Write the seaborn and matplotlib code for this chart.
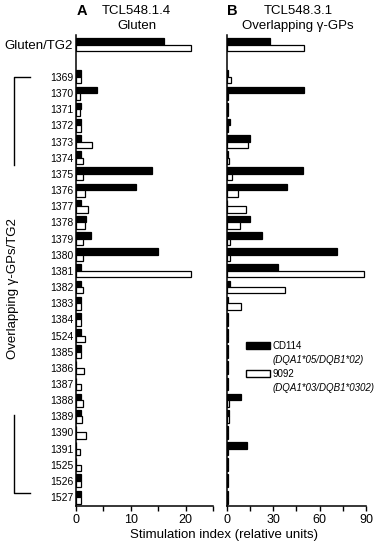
import pandas as pd
import matplotlib.pyplot as plt
import seaborn as sns
from matplotlib.patches import Patch
from matplotlib.lines import Line2D
from matplotlib.ticker import MultipleLocator

peptides = ['Gluten/TG2', '1369', '1370', '1371', '1372', '1373', '1374', '1375', '1376', '1377',
            '1378', '1379', '1380', '1381', '1382', '1383', '1384', '1524', '1385', '1386',
            '1387', '1388', '1389', '1390', '1391', '1525', '1526', '1527']
clones = ['CD114', '9092']

# panel A: TCL548.1.4 (gluten)
a_cd114 = [16, 0.9, 3.9, 0.9, 0.9, 0.9, 0.9, 13.9, 10.9, 0.9, 1.9, 2.8, 15, 0.9,
           0.9, 0.9, 0.9, 0.9, 0.9, 0, 0, 0.9, 0.9, 0, 0, 0, 0.9, 0.9]
a_9092 = [21, 1.0, 0.7, 0.7, 1.0, 3.0, 1.3, 1.2, 1.7, 2.1, 1.6, 1.2, 1.3, 21,
          1.3, 1.0, 1.0, 1.7, 1.0, 1.4, 0.9, 1.3, 1.1, 1.8, 0.7, 0.9, 1.0, 0.9]
# panel B: TCL548.3.1 (overlapping gamma-GPs)
b_cd114 = [28, 0.5, 50, 1, 2, 15, 0.8, 49, 39, 0.3, 15, 23, 71, 33,
           2, 0.5, 0.8, 0.8, 0.8, 0.8, 0.8, 9, 1.5, 0.5, 13, 0.5, 1, 1]
b_9092 = [50, 2.4, 0.5, 0.5, 0.5, 14, 1.5, 3.5, 7, 12.4, 8.2, 2.2, 1.8, 89,
          37.7, 9, 0.8, 0.8, 0.8, 0.8, 0.8, 1.5, 1.5, 0.5, 0.5, 0.5, 1, 1]

order = [peptides[0], ' '] + peptides[1:]

def long_df(v1, v2):
    return pd.DataFrame({
        'peptide': peptides * 2,
        'clone': [clones[0]] * len(peptides) + [clones[1]] * len(peptides),
        'value': v1 + v2,
    })

plt.rcParams['font.family'] = ['Liberation Sans', 'DejaVu Sans']
fig = plt.figure(figsize=(3.8, 5.46), dpi=100)
axA = fig.add_axes([0.2, 0.0733, 0.3605, 0.8627])
axB = fig.add_axes([0.597, 0.0733, 0.366, 0.8627])
pal = {'CD114': 'black', '9092': 'white'}

for ax, v1, v2, xmax, major in [(axA, a_cd114, a_9092, 25, 10), (axB, b_cd114, b_9092, 90, 30)]:
    sns.barplot(data=long_df(v1, v2), x='value', y='peptide', hue='clone', order=order,
                hue_order=clones, palette=pal, edgecolor='black', linewidth=0.9,
                orient='h', errorbar=None, legend=False, width=0.8, ax=ax)
    ax.set_ylim(28.55, -0.6)
    ax.set_xlim(0, xmax)
    ax.xaxis.set_major_locator(MultipleLocator(major))
    ax.xaxis.set_minor_locator(MultipleLocator(major / 2))
    ax.tick_params(axis='x', which='both', length=3.5, width=1, labelsize=9, pad=2)
    ax.tick_params(axis='y', length=0, pad=2)
    for s in ['top', 'right']:
        ax.spines[s].set_visible(False)
    for s in ['left', 'bottom']:
        ax.spines[s].set_linewidth(1.1)
    ax.set_xlabel('')
    ax.set_ylabel('')

for i, lbl in enumerate(axA.get_yticklabels()):
    lbl.set_fontsize(9.5 if i == 0 else 7.5)
axB.set_yticklabels([])

leg = axB.legend(handles=[Patch(facecolor='black', edgecolor='black'),
                          Patch(visible=False),
                          Patch(facecolor='white', edgecolor='black'),
                          Patch(visible=False)],
                 labels=['CD114', '(DQA1*05/DQB1*02)', '9092', '(DQA1*03/DQB1*0302)'],
                 loc='upper left', bbox_to_anchor=(0.137, 0.35), frameon=False,
                 fontsize=7, handlelength=2.5, handleheight=0.7, handletextpad=0.25,
                 labelspacing=0.4, borderpad=0, borderaxespad=0)
for t in leg.get_texts()[1::2]:
    t.set_style('italic')

fig.text(0.216, 0.98, 'A', fontsize=10.5, fontweight='bold', ha='center', va='center')
fig.text(0.358, 0.98, 'TCL548.1.4', fontsize=9.5, ha='center', va='center')
fig.text(0.36, 0.952, 'Gluten', fontsize=9.5, ha='center', va='center')
fig.text(0.611, 0.98, 'B', fontsize=10.5, fontweight='bold', ha='center', va='center')
fig.text(0.784, 0.98, 'TCL548.3.1', fontsize=9.5, ha='center', va='center')
fig.text(0.784, 0.952, 'Overlapping γ-GPs', fontsize=9.5, ha='center', va='center')
fig.text(0.59, 0.02, 'Stimulation index (relative units)', fontsize=9.5, ha='center', va='center')
fig.text(0.034, 0.472, 'Overlapping γ-GPs/TG2', fontsize=9.5, rotation=90, ha='center', va='center')

# brackets next to the y label
for xs, ys in [([0.079, 0.0368, 0.0368], [0.859, 0.859, 0.698]),
               ([0.0368, 0.0368, 0.079], [0.240, 0.097, 0.097])]:
    fig.add_artist(Line2D(xs, ys, color='black', lw=1, transform=fig.transFigure))

fig.savefig('out.png', dpi=100)
